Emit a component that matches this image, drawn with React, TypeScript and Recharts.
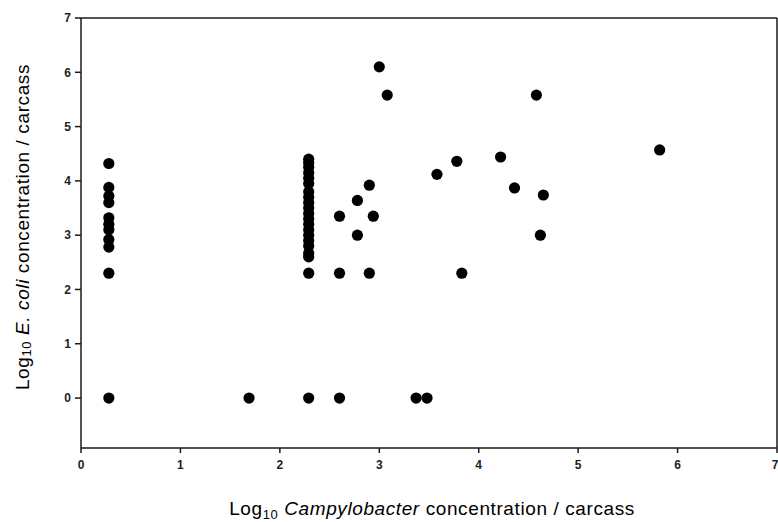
import { ScatterChart, Scatter, XAxis, YAxis, ReferenceLine, Label } from "recharts";

// column of carcasses at the lowest Campylobacter value
const lowColumnX = 0.28;
const lowColumnEcoli = [4.32, 3.88, 3.72, 3.6, 3.32, 3.2, 3.1, 2.92, 2.78, 2.3, 0];

// column at ~2.3 log
const midColumnX = 2.29;
const midColumnEcoli = [
  4.4, 4.33, 4.25, 4.15, 4.05, 3.95, 3.8, 3.7, 3.6, 3.5, 3.4, 3.3, 3.2, 3.1, 3.0,
  2.9, 2.8, 2.67, 2.6, 2.3, 0,
];

// remaining single points
const otherCampy = [
  1.69, 3.0, 3.08, 3.78, 3.58, 2.9, 2.78, 2.6, 2.94, 2.78, 2.6, 2.9, 3.83, 2.6,
  3.37, 3.48, 4.58, 4.22, 5.82, 4.36, 4.65, 4.62,
];
const otherEcoli = [
  0, 6.1, 5.58, 4.36, 4.12, 3.92, 3.64, 3.35, 3.35, 3.0, 2.3, 2.3, 2.3, 0, 0, 0,
  5.58, 4.44, 4.57, 3.87, 3.74, 3.0,
];

const xTicks = [0, 1, 2, 3, 4, 5, 6, 7];
const yTicks = [0, 1, 2, 3, 4, 5, 6, 7];

const points = [
  ...lowColumnEcoli.map((y) => ({ x: lowColumnX, y })),
  ...midColumnEcoli.map((y) => ({ x: midColumnX, y })),
  ...otherCampy.map((x, i) => ({ x, y: otherEcoli[i] })),
];

const FONT = "'Liberation Sans', Arial, sans-serif";
const AXIS = "#1a1a1a";

const Dot = (p: any) => <circle cx={p.cx} cy={p.cy} r={5.6} fill="#000" />;

const XTitle = (props: any) => {
  const vb = props.viewBox;
  return (
    <text
      x={vb.x + vb.width / 2 + 3}
      y={vb.y + 67}
      textAnchor="middle"
      fontFamily={FONT}
      fontSize={19}
      letterSpacing={0.6}
      fill="#000"
    >
      Log
      <tspan dy={4} fontSize={13}>10</tspan>
      <tspan dy={-4}> </tspan>
      <tspan fontStyle="italic">Campylobacter</tspan>
      <tspan> concentration / carcass</tspan>
    </text>
  );
};

const YTitle = (props: any) => {
  const vb = props.viewBox;
  const cx = 22;
  const cy = vb.y + vb.height / 2 - 6;
  return (
    <text
      x={cx}
      y={cy}
      transform={`rotate(-90 ${cx} ${cy})`}
      textAnchor="middle"
      dominantBaseline="central"
      fontFamily={FONT}
      fontSize={19}
      letterSpacing={0.6}
      fill="#000"
    >
      Log
      <tspan dy={4} fontSize={13}>10</tspan>
      <tspan dy={-4}> </tspan>
      <tspan fontStyle="italic">E. coli</tspan>
      <tspan> concentration / carcass</tspan>
    </text>
  );
};

const tickStyle = { fontFamily: FONT, fontSize: 12, fill: "#222", fontWeight: 600 };

export default function App() {
  return (
    <div style={{ position: "absolute", left: 0, top: 0, background: "#fff" }}>
      <ScatterChart
        width={778}
        height={522}
        margin={{ top: 18, right: 1, bottom: 0, left: 0 }}
      >
        <XAxis
          type="number"
          dataKey="x"
          domain={[0, 7]}
          ticks={xTicks}
          height={74}
          tickSize={5}
          tickMargin={7}
          tick={tickStyle}
          axisLine={{ stroke: AXIS, strokeWidth: 1.5 }}
          tickLine={{ stroke: AXIS, strokeWidth: 1.5 }}
          allowDataOverflow
        >
          <Label content={<XTitle />} />
        </XAxis>
        <YAxis
          type="number"
          dataKey="y"
          domain={[-0.92, 7]}
          ticks={yTicks}
          width={81}
          tickSize={6}
          tickMargin={4}
          tick={tickStyle}
          axisLine={{ stroke: AXIS, strokeWidth: 1.5 }}
          tickLine={{ stroke: AXIS, strokeWidth: 1.5 }}
          allowDataOverflow
        >
          <Label content={<YTitle />} />
        </YAxis>
        <ReferenceLine y={7} stroke={AXIS} strokeWidth={1.5} />
        <ReferenceLine x={7} stroke={AXIS} strokeWidth={1.5} />
        <Scatter data={points} shape={Dot} isAnimationActive={false} />
      </ScatterChart>
    </div>
  );
}
